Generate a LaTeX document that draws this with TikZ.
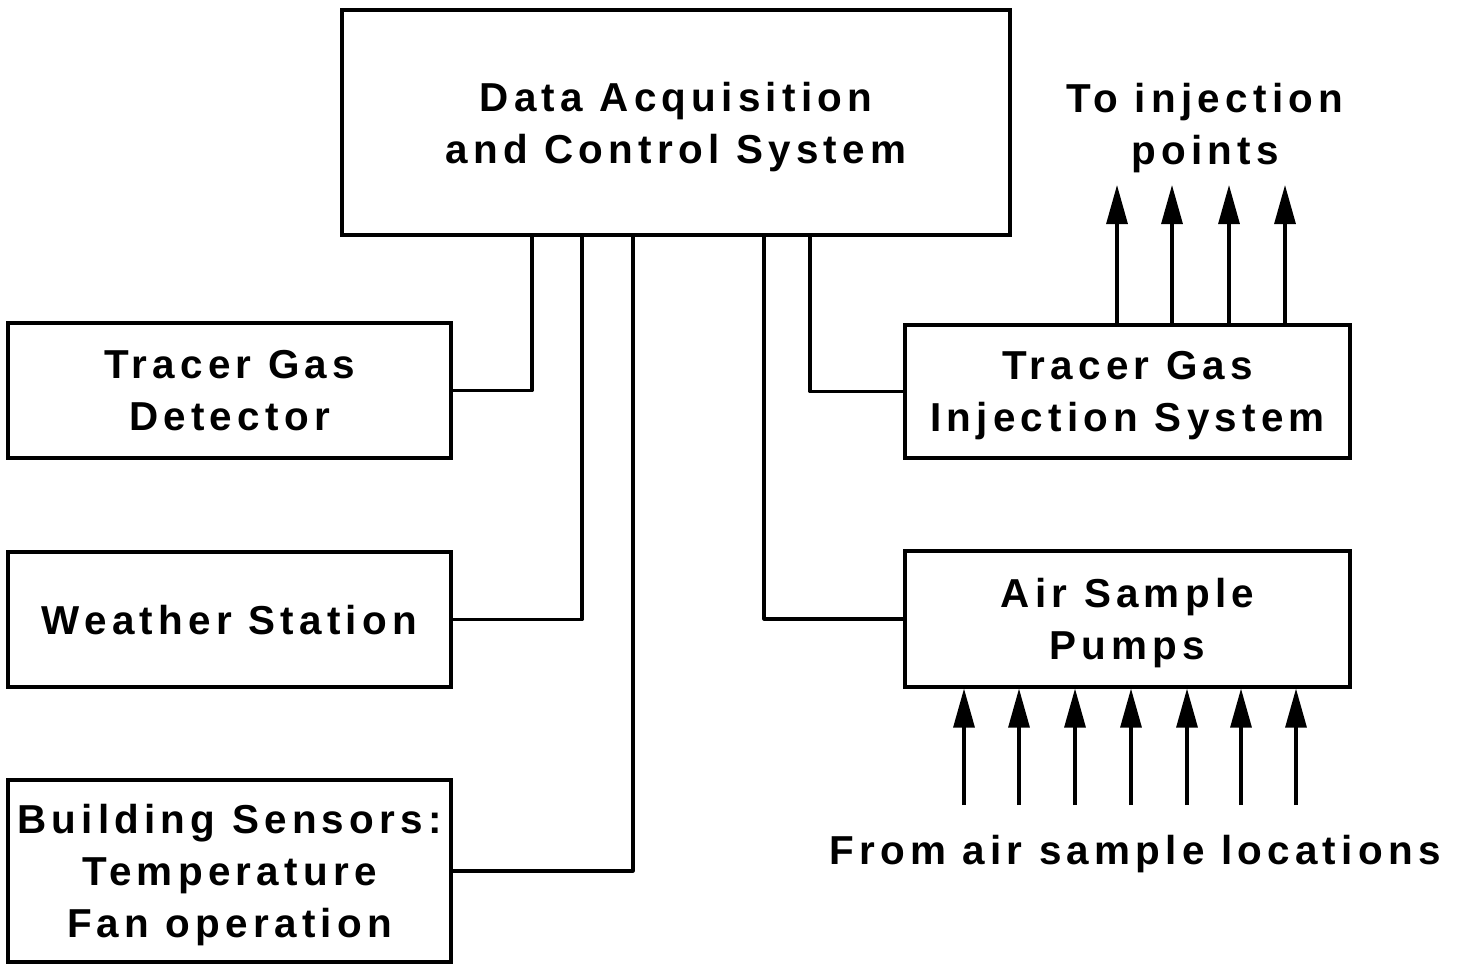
\documentclass[tikz,border=0pt]{standalone}
\usepackage{fontspec}
\setmainfont{Liberation Sans}[LetterSpace=13]
\usetikzlibrary{arrows.meta}

\tikzset{
  block/.style={draw, line width=1.8pt, inner sep=0pt, align=center, text depth=0pt,
    font=\fontsize{23}{29.6}\selectfont\bfseries},
  wire/.style={line width=1.8pt, line join=round},
  flow/.style={line width=1.8pt, -{Triangle[length=0.78cm,width=0.42cm]}},
  caption/.style={align=center, text depth=0pt, font=\fontsize{23}{29.6}\selectfont\bfseries}
}

\begin{document}
\begin{tikzpicture}[x=0.02cm, y=-0.02cm]
\useasboundingbox (0,0) rectangle (1463,965);

\node[block, minimum width=13.36cm, minimum height=4.5cm] (daq) at (676,122.5)
  {Data Acquisition\\and Control System};
\node[block, minimum width=8.86cm, minimum height=2.7cm] (det) at (229.5,390.5)
  {Tracer Gas\\Detector};
\node[block, minimum width=8.86cm, minimum height=2.7cm] (wx) at (229.5,619.5)
  {Weather Station};
\node[block, minimum width=8.86cm, minimum height=3.64cm] (bldg) at (229.5,871)
  {Building Sensors:\\Temperature\\Fan operation};
\node[block, minimum width=8.9cm, minimum height=2.66cm] (inj) at (1127.5,391.5)
  {Tracer Gas\\Injection System};
\node[block, minimum width=8.9cm, minimum height=2.72cm] (pump) at (1127.5,619)
  {Air Sample\\Pumps};

\node[caption] (toinj) at (1205,124) {To injection\\points};
\node[caption] (from) at (1135,850) {From air sample locations};

\coordinate (tips) at (0,185);
\coordinate (tails) at (0,805);

\draw[wire] (532,0 |- daq.south) |- (det.east);
\draw[wire] (582,0 |- daq.south) |- (wx.east);
\draw[wire] (633,0 |- daq.south) |- (bldg.east);
\draw[wire] (810,0 |- daq.south) |- (inj.west);
\draw[wire] (764,0 |- daq.south) |- (pump.west);

\foreach \x in {1117,1172,1229,1285}
  \draw[flow] (\x,0 |- inj.north) -- (\x,0 |- tips);
\foreach \x in {964,1019,1075,1131,1187,1241,1296}
  \draw[flow] (\x,0 |- tails) -- (\x,0 |- pump.south);

\end{tikzpicture}
\end{document}
